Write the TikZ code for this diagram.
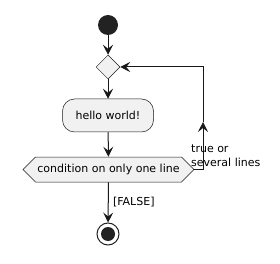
\documentclass[tikz,border=0pt]{standalone}
\usepackage{fontspec}
\setmainfont{DejaVu Sans}
\usetikzlibrary{arrows.meta,shapes.geometric,shapes.symbols,positioning}
\definecolor{actFill}{RGB}{241,241,241}
\definecolor{actLine}{RGB}{24,24,24}
\definecolor{actDot}{RGB}{34,34,34}

\begin{document}
\begin{tikzpicture}[x=1pt,y=-1pt,
    font=\fontsize{11}{13.5}\selectfont,
    >={Stealth[length=10pt,width=10pt,inset=4pt]},
    flow/.style={->, line width=1pt, draw=actLine},
    act/.style={draw=actLine, line width=0.5pt, fill=actFill}]
\useasboundingbox (0,0) rectangle (280,264);
% nodes
\node[circle, fill=actDot, minimum size=20pt, inner sep=0pt] (start) at (108,25) {};
\node[diamond, act, minimum width=24pt, minimum height=24pt, inner sep=0pt] (dec) at (108,67) {};
\node[act, rounded corners=12pt, minimum width=91pt, minimum height=33pt] (hello) at (108,115.5) {hello world!};
\node[signal, signal to=west and east, signal pointer angle=90, act,
      minimum width=167pt, minimum height=25pt, inner xsep=2pt] (cond) at (108.5,169.5) {condition on only one line};
\node[circle, draw=actDot, line width=1pt, fill=white, minimum size=22pt, inner sep=0pt] (stop) at (108,234) {};
\fill[actDot] (stop.center) circle (7);
% connectors
\draw[flow] (start) -- (dec);
\draw[flow] (dec) -- (hello);
\draw[flow] (hello) -- (cond);
\draw[flow] (cond) -- node[right, xshift=1pt] {[FALSE]} (stop);
\coordinate (loopMid) at (203,122);
\draw[flow] (cond.east) -| (loopMid);
\draw[flow] (loopMid) |- (dec.east);
\node[anchor=north west, align=left, inner sep=0pt] (loopLbl) at (191,145) {true or\\several lines};
\end{tikzpicture}
\end{document}
